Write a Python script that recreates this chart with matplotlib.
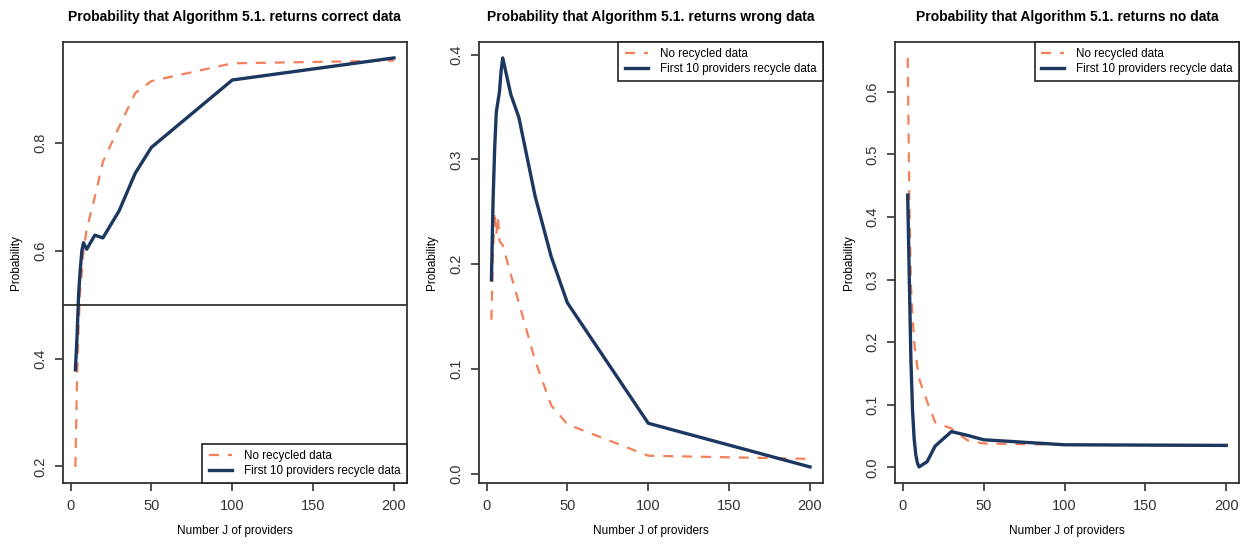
import matplotlib
matplotlib.use("Agg")
import matplotlib.pyplot as plt

plt.rcParams['font.family'] = ['Liberation Sans', 'DejaVu Sans']

# number J of providers
J = [3, 4, 5, 6, 7, 8, 9, 10, 15, 20, 30, 40, 50, 100, 200]

# no recycled data
correct_plain = [0.199, 0.36, 0.46, 0.53, 0.56, 0.60, 0.62, 0.64, 0.70, 0.765, 0.83, 0.893, 0.915, 0.948, 0.953]
wrong_plain = [0.147, 0.21, 0.25, 0.228, 0.245, 0.222, 0.22, 0.218, 0.19, 0.163, 0.108, 0.065, 0.047, 0.017, 0.014]
none_plain = [0.654, 0.43, 0.29, 0.24, 0.20, 0.178, 0.16, 0.142, 0.105, 0.072, 0.062, 0.043, 0.038, 0.036, 0.034]

# first 10 providers recycle data
correct_recyc = [0.379, 0.44, 0.52, 0.565, 0.60, 0.615, 0.608, 0.603, 0.629, 0.624, 0.674, 0.744, 0.792, 0.917, 0.958]
wrong_recyc = [0.185, 0.26, 0.31, 0.345, 0.355, 0.365, 0.385, 0.397, 0.362, 0.34, 0.265, 0.207, 0.163, 0.048, 0.0063]
none_recyc = [0.435, 0.30, 0.17, 0.09, 0.045, 0.02, 0.007, 0.0006, 0.009, 0.034, 0.057, 0.051, 0.044, 0.036, 0.035]

titles = ["Probability that Algorithm 5.1. returns correct data",
          "Probability that Algorithm 5.1. returns wrong data",
          "Probability that Algorithm 5.1. returns no data"]
yticks = [[0.2, 0.4, 0.6, 0.8],
          [0.0, 0.1, 0.2, 0.3, 0.4],
          [0.0, 0.1, 0.2, 0.3, 0.4, 0.5, 0.6]]
leg_loc = ["lower right", "upper right", "upper right"]

orange = "#f4805a"
navy = "#1c3861"

fig = plt.figure(figsize=(12.43, 5.44), dpi=100)
lefts = [0.0504, 0.3851, 0.7200]

panels = [(correct_plain, correct_recyc), (wrong_plain, wrong_recyc), (none_plain, none_recyc)]

for i, (plain, recyc) in enumerate(panels):
    ax = fig.add_axes([lefts[i], 0.1116, 0.2768, 0.812])
    ax.plot(J, plain, color=orange, lw=1.6, dashes=(4.5, 4), label="No recycled data")
    ax.plot(J, recyc, color=navy, lw=2.4, label="First 10 providers recycle data")
    if i == 0:
        ax.axhline(0.5, color="#222222", lw=1.2)

    # R-style 4% padding around the data range
    allv = plain + recyc
    lo, hi = min(allv), max(allv)
    pad = 0.04 * (hi - lo)
    ax.set_ylim(lo - pad, hi + pad)
    xpad = 0.04 * (J[-1] - J[0])
    ax.set_xlim(J[0] - xpad, J[-1] + xpad)

    ax.set_xticks([0, 50, 100, 150, 200])
    ax.set_yticks(yticks[i])
    ax.set_yticklabels(["%.1f" % v for v in yticks[i]])
    for lbl in ax.get_yticklabels():
        lbl.set_rotation(90)
        lbl.set_va("center")
    ax.tick_params(direction="out", length=6, width=1.2, labelsize=10.5, pad=5, colors="#333333")
    for sp in ax.spines.values():
        sp.set_linewidth(1.3)
        sp.set_color("#333333")

    ax.set_title(titles[i], fontsize=10, fontweight="bold", pad=15)
    ax.set_xlabel("Number J of providers", fontsize=8.5, labelpad=9)
    ax.set_ylabel("Probability", fontsize=8.5, labelpad=8)

    leg = ax.legend(loc=leg_loc[i], borderaxespad=0, fancybox=False, framealpha=1,
                    edgecolor="#222222", fontsize=8.4, handlelength=2.0,
                    borderpad=0.55, labelspacing=0.25, handletextpad=1.0)
    leg.get_frame().set_linewidth(1.2)

fig.savefig("out.png", dpi=100)
